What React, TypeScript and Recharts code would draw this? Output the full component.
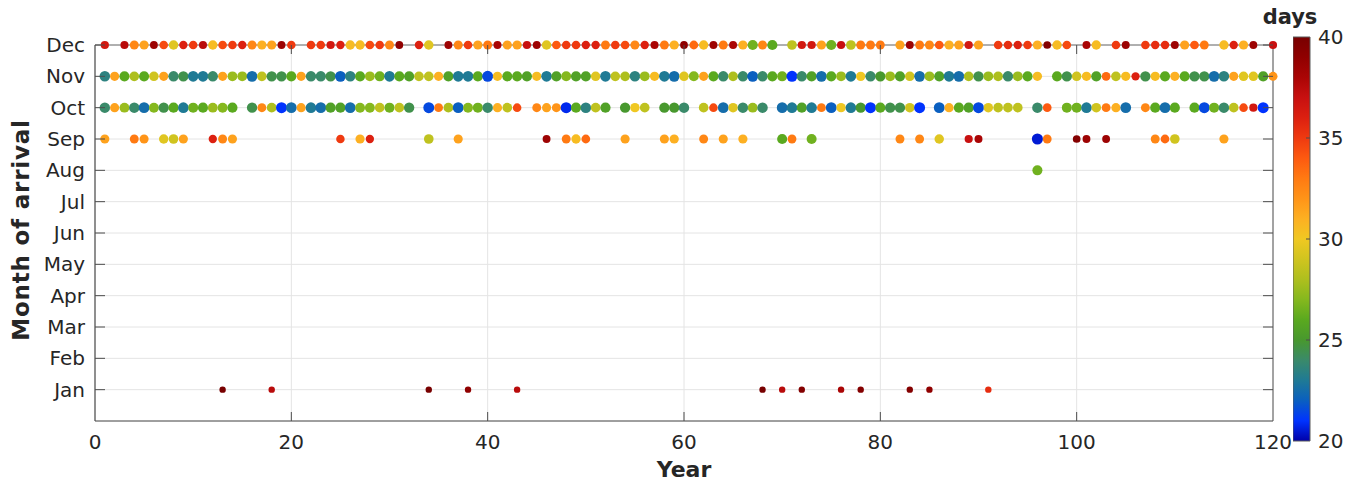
import React from 'react';
import {
  ScatterChart,
  Scatter,
  XAxis,
  YAxis,
  CartesianGrid,
  ReferenceLine,
  ReferenceArea,
  ComposedChart,
  Line,
} from 'recharts';

// ---------------- data ----------------
const MONTH_LABELS = ['Jan', 'Feb', 'Mar', 'Apr', 'May', 'Jun', 'Jul', 'Aug', 'Sep', 'Oct', 'Nov', 'Dec'];
const MONTH_TICKS = [1, 2, 3, 4, 5, 6, 7, 8, 9, 10, 11, 12];
const YEAR_TICKS = [0, 20, 40, 60, 80, 100, 120];
const DAY_TICKS = [20, 25, 30, 35, 40];

// [year, days]
const DEC: [number, number][] = [[1,36.5],[3,37.5],[4,32.5],[5,31.5],[6,38.5],[7,34.5],[8,29.5],[9,36],[10,35],[11,37.5],[12,30.5],[13,34.5],[14,35],[15,36],[16,32.5],[17,31],[18,31.5],[19,38.5],[20,35],[22,35],[23,35],[24,36.5],[25,36],[26,30.5],[27,30.5],[28,34.5],[29,35],[30,32.5],[31,39],[33,36],[34,29.5],[36,38.5],[37,32.5],[38,35],[39,31.5],[40,33],[41,38],[42,31.5],[43,31.5],[44,37],[45,38.5],[46,29.5],[47,34],[48,35],[49,35],[50,36],[51,36],[52,33],[53,35],[54,34.5],[55,32.5],[56,36],[57,38],[58,33],[59,31],[60,39],[61,33.5],[62,30.5],[63,38.5],[64,33],[65,38],[66,31],[67,26.5],[68,32.5],[69,26],[71,28.5],[72,36.5],[73,36.5],[74,31.5],[75,26.5],[76,37],[77,28.5],[78,33],[79,33],[80,33],[82,31.5],[83,38.5],[84,33],[85,32.5],[86,34],[87,31],[88,31.5],[89,36.5],[90,31.5],[92,35],[93,35.5],[94,36],[95,35],[96,31],[97,39.5],[98,30.5],[99,34.5],[101,38],[102,30.5],[104,35],[105,38.5],[107,35],[108,35.5],[109,35.5],[110,38.5],[111,31.5],[112,34],[113,33],[115,30.5],[116,36],[117,31],[118,38.5],[120,37]];

const NOV: [number, number][] = [[1,23.5],[2,31.5],[3,26],[4,28],[5,26],[6,29],[7,31.5],[8,24],[9,24.5],[10,23],[11,23],[12,24],[13,31.5],[14,27.5],[15,27.5],[16,22.5],[17,28.5],[18,24.5],[19,24.5],[20,26],[21,31.5],[22,24],[23,24],[24,24.5],[25,22],[26,23.5],[27,26],[28,27.5],[29,26.5],[30,23],[31,26],[32,25.5],[33,28.5],[34,28.5],[35,31],[36,25.5],[37,23],[38,23],[39,26],[40,21.5],[41,30.5],[42,26],[43,26],[44,25.5],[45,30.5],[46,23],[47,25.5],[48,27],[49,25.5],[50,25.5],[51,29.5],[52,23],[53,28.5],[54,28],[55,23.5],[56,27.5],[57,30.5],[58,23],[59,22.5],[60,29.5],[61,27],[62,31.5],[63,26],[64,24],[65,28],[66,24],[67,22],[68,24],[69,26],[70,26.5],[71,21],[72,24],[73,25.5],[74,22.5],[75,26],[76,27.5],[77,23],[78,30],[79,24],[80,25],[81,27.5],[82,25.5],[83,29],[84,22.5],[85,27.5],[86,25.5],[87,23],[88,22.5],[89,28],[90,24.5],[91,27.5],[92,28],[93,24],[94,27.5],[95,26],[96,30.5],[98,26],[99,24.5],[100,29],[101,30.5],[102,25.5],[103,33.5],[104,28.5],[105,30.5],[106,36],[107,24.5],[108,30.5],[109,26],[110,31],[111,26],[112,24.5],[113,24.5],[114,22.5],[115,23.5],[116,31.5],[117,29.5],[118,29.5],[119,25.5],[120,32]];

const OCT: [number, number][] = [[1,24],[2,31.5],[3,27.5],[4,24],[5,22.5],[6,27],[7,24.5],[8,26],[9,23],[10,26.5],[11,26],[12,27.5],[13,27],[14,26],[16,24.5],[17,32.5],[18,28],[19,21],[20,22.5],[21,31.5],[22,23],[23,22.5],[24,25.5],[25,25.5],[26,22.5],[27,27],[28,27],[29,28.5],[30,26.5],[31,28.5],[32,24.5],[34,21.5],[35,33],[36,28],[37,22],[38,27],[39,26.5],[40,24],[41,31],[42,28.5],[43,34.5],[45,32.5],[46,31.5],[47,32],[48,20.8],[49,26],[50,23.5],[51,28.5],[52,25.5],[54,25],[55,30],[56,28.5],[58,25],[59,25],[60,24],[62,28.5],[63,34.5],[64,22.5],[65,29.5],[66,24],[67,27.5],[68,24],[70,22.5],[71,23],[72,25.5],[73,23],[74,33],[75,22],[76,30],[77,23],[78,25],[79,21],[80,26],[81,24.5],[82,24.5],[83,29],[84,21],[86,22],[87,31],[88,26],[89,25.5],[90,21.5],[91,29.5],[92,28.5],[93,28.5],[94,28.5],[96,24],[97,34],[99,26.5],[100,26.5],[101,23],[102,29],[103,33],[104,31],[105,22.5],[107,32.5],[108,26],[109,22.5],[110,26],[112,26],[113,21.5],[114,26.5],[115,24],[116,28.5],[117,34.5],[118,36.5],[119,21]];

const SEP: [number, number][] = [[1,31.5],[4,33],[5,32],[7,29.5],[8,29],[9,31.5],[12,36],[13,32.5],[14,31.5],[25,35],[27,31],[28,36],[34,28.5],[37,31.5],[46,38.5],[48,33],[49,30.5],[50,33.5],[54,31.5],[58,31.5],[59,31],[62,32.5],[64,31.5],[66,31],[70,26],[71,33],[73,26.5],[82,32.5],[84,32.5],[86,29.5],[89,37],[90,38],[96,20.5],[97,33],[100,39.5],[101,38.5],[103,38.5],[108,32.5],[109,33.5],[110,29],[115,31.5]];

const AUG: [number, number][] = [[96,26.5]];

const JAN: [number, number][] = [[13,40],[18,37.5],[34,40],[38,39],[43,37.5],[68,40],[70,37.5],[72,39.5],[76,38],[78,39.5],[83,39.5],[85,39],[91,35.5]];

// colormap (days -> colour)
const COLOR_STOPS: [number, string][] = [
  [20, '#0000a8'], [21, '#0033ff'], [22, '#0a5fc0'], [23, '#1f7a95'], [24, '#3a8a6a'],
  [25, '#48982e'], [26, '#5aa91f'], [27, '#85b81e'], [28, '#aebf1e'], [29, '#d0c41f'],
  [30, '#f0c822'], [31, '#fdb022'], [32, '#ff9418'], [33, '#ff7a12'], [34, '#fd5a10'],
  [35, '#ef3a10'], [36, '#dc2010'], [37, '#c81010'], [38, '#aa0505'], [39, '#900000'], [40, '#780000'],
];

function hexRgb(h: string) {
  return [parseInt(h.slice(1, 3), 16), parseInt(h.slice(3, 5), 16), parseInt(h.slice(5, 7), 16)];
}
function dayColor(d: number) {
  if (d <= COLOR_STOPS[0][0]) return COLOR_STOPS[0][1];
  for (let i = 1; i < COLOR_STOPS.length; i++) {
    const [v1, c1] = COLOR_STOPS[i];
    const [v0, c0] = COLOR_STOPS[i - 1];
    if (d <= v1) {
      const t = (d - v0) / (v1 - v0);
      const a = hexRgb(c0), b = hexRgb(c1);
      const m = a.map((x, k) => Math.round(x + (b[k] - x) * t));
      return `rgb(${m[0]},${m[1]},${m[2]})`;
    }
  }
  return COLOR_STOPS[COLOR_STOPS.length - 1][1];
}

const ROWS = [
  { month: 12, pts: DEC, small: false },
  { month: 11, pts: NOV, small: false },
  { month: 10, pts: OCT, small: false },
  { month: 9, pts: SEP, small: false },
  { month: 8, pts: AUG, small: false },
  { month: 1, pts: JAN, small: true },
];

// ---------------- layout ----------------
const FONT = '"DejaVu Sans", "Liberation Sans", sans-serif';
const TEXT = '#262626';
const AXIS = '#4d4d4d';
const W = 1355;
const H = 481;
const PLOT_L = 95;
const PLOT_R = 1273;
const PLOT_T = 45;
const PLOT_B = 421;
const Y_AXIS_W = 60;
const X_AXIS_H = 50;
const MARGIN = { top: PLOT_T, right: W - PLOT_R, bottom: H - PLOT_B - X_AXIS_H, left: PLOT_L - Y_AXIS_W };

const CB_L = 1293;
const CB_W = 17;
const CB_T = 37;
const CB_B = 441;
const CB_PAD = 16;
const CB_DATA = [{ x: 0, v: 20 }, { x: 1, v: 40 }];

const XTick = (props: any) => {
  const { x, payload } = props;
  const v = payload.value;
  const inner = v > 0 && v < 120;
  return (
    <g>
      {inner && <line x1={x} x2={x} y1={PLOT_B} y2={PLOT_B - 9} stroke={AXIS} strokeWidth={1} />}
      {inner && <line x1={x} x2={x} y1={PLOT_T} y2={PLOT_T + 9} stroke={AXIS} strokeWidth={1} />}
      <text x={x} y={449} textAnchor="middle" fontSize={20} fill={TEXT} fontFamily={FONT}>{v}</text>
    </g>
  );
};

const YTick = (props: any) => {
  const { y, payload } = props;
  const v = payload.value;
  return (
    <g>
      <line x1={PLOT_L} x2={PLOT_L + 10} y1={y} y2={y} stroke={AXIS} strokeWidth={1} />
      <line x1={PLOT_R - 10} x2={PLOT_R} y1={y} y2={y} stroke={AXIS} strokeWidth={1} />
      <text x={85} y={y + 7} textAnchor="end" fontSize={20} fill={TEXT} fontFamily={FONT}>{MONTH_LABELS[v - 1]}</text>
    </g>
  );
};

const CbTick = (props: any) => {
  const { y, payload } = props;
  const v = payload.value;
  const inner = v > 20 && v < 40;
  return (
    <g>
      {inner && <line x1={CB_W - 4} x2={CB_W} y1={y} y2={y} stroke={AXIS} strokeWidth={1} />}
      <text x={CB_W + 8} y={y + 7} textAnchor="start" fontSize={20} fill={TEXT} fontFamily={FONT}>{v}</text>
    </g>
  );
};

const Dot = (props: any) => {
  const { cx, cy, payload } = props;
  if (cx == null || cy == null) return <g />;
  const d = payload.days;
  const r = payload.small ? 3.2 : 3.8 + (40 - d) * 0.09;
  return <circle cx={cx} cy={cy} r={r} fill={dayColor(d)} />;
};

export default function App() {
  return (
    <div style={{ position: 'relative', width: W, height: H, background: '#fff', fontFamily: FONT }}>
      <style>{'html,body{margin:0;padding:0;overflow:hidden;background:#fff}'}</style>
      <ScatterChart width={W} height={H} margin={MARGIN}>
        <CartesianGrid stroke="#e4e4e4" strokeWidth={1} />
        <XAxis
          type="number"
          dataKey="year"
          domain={[0, 120]}
          ticks={YEAR_TICKS}
          height={X_AXIS_H}
          axisLine={{ stroke: AXIS, strokeWidth: 1.2 }}
          tickLine={false}
          tick={<XTick />}
          interval={0}
          label={{
            content: () => (
              <text x={684} y={477} textAnchor="middle" fontSize={22} fontWeight="bold" fill={TEXT} fontFamily={FONT}>
                Year
              </text>
            ),
          }}
        />
        <YAxis
          type="number"
          dataKey="month"
          domain={[0, 12]}
          ticks={MONTH_TICKS}
          width={Y_AXIS_W}
          axisLine={{ stroke: AXIS, strokeWidth: 1.2 }}
          tickLine={false}
          tick={<YTick />}
          interval={0}
          label={{
            content: () => (
              <text
                x={21}
                y={230}
                transform="rotate(-90 21 230)"
                textAnchor="middle"
                dominantBaseline="central"
                fontSize={23}
                letterSpacing={0.8}
                fontWeight="bold"
                fill={TEXT}
                fontFamily={FONT}
              >
                Month of arrival
              </text>
            ),
          }}
        />
        <ReferenceLine y={12} stroke="#6e6e6e" strokeWidth={1.2} />
        <ReferenceLine x={120} stroke="#6e6e6e" strokeWidth={1.2} />
        {ROWS.map((row) => (
          <Scatter
            key={row.month}
            data={row.pts.map(([year, days]) => ({ year, month: row.month, days, small: row.small }))}
            shape={<Dot />}
            isAnimationActive={false}
          />
        ))}
      </ScatterChart>

      <div style={{ position: 'absolute', left: CB_L, top: CB_T - CB_PAD }}>
        <ComposedChart
          width={CB_W + 44}
          height={CB_B - CB_T + 2 * CB_PAD}
          margin={{ top: CB_PAD, bottom: CB_PAD, left: 0, right: 0 }}
          data={CB_DATA}
        >
          <defs>
            <linearGradient id="cbGrad" x1="0" y1="1" x2="0" y2="0">
              {COLOR_STOPS.map(([v, c]) => (
                <stop key={v} offset={(v - 20) / 20} stopColor={c} />
              ))}
            </linearGradient>
          </defs>
          <XAxis type="number" dataKey="x" domain={[0, 1]} hide />
          <YAxis
            type="number"
            orientation="right"
            domain={[20, 40]}
            ticks={DAY_TICKS}
            width={44}
            axisLine={false}
            tickLine={false}
            tick={<CbTick />}
            interval={0}
          />
          <Line dataKey="v" stroke="none" dot={false} isAnimationActive={false} />
          <ReferenceArea x1={0} x2={1} y1={20} y2={40} fill="url(#cbGrad)" fillOpacity={1} stroke="#5a5a5a" strokeWidth={1} />
        </ComposedChart>
      </div>

      <svg style={{ position: 'absolute', left: 1250, top: 0 }} width={80} height={32}>
        <text x={40} y={24} textAnchor="middle" fontSize={21} fontWeight="bold" fill={TEXT} fontFamily={FONT}>
          days
        </text>
      </svg>
    </div>
  );
}
